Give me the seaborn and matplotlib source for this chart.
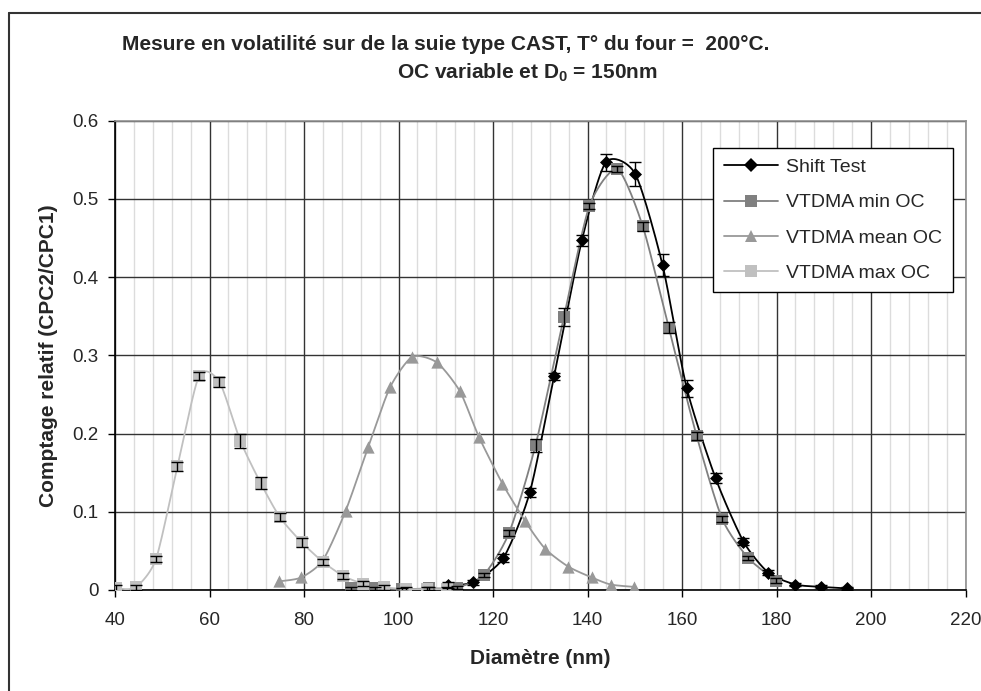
import numpy as np
import matplotlib
matplotlib.use('Agg')
import matplotlib.pyplot as plt
from matplotlib.lines import Line2D
import seaborn as sns

# Shift Test (black diamonds)
shift_x = [110.5, 115.8, 122.2, 127.8, 132.9, 138.8, 143.9, 150.1, 155.9, 161.0,
           167.1, 173.0, 178.3, 184.0, 189.5, 195.0]
shift_y = [0.006, 0.010, 0.041, 0.125, 0.273, 0.447, 0.547, 0.532, 0.415, 0.258,
           0.143, 0.062, 0.022, 0.007, 0.004, 0.002]
shift_err = [0.004, 0.003, 0.005, 0.006, 0.005, 0.007, 0.011, 0.015, 0.014, 0.011,
             0.006, 0.005, 0.003, 0.002, 0.002, 0.002]

# VTDMA min OC (dark grey squares)
min_x = [90.0, 95.0, 100.8, 106.5, 112.3, 118.0, 123.4, 129.0, 135.0, 140.4,
         146.3, 151.7, 157.2, 163.1, 168.5, 174.0, 179.9]
min_y = [0.002, 0.002, 0.001, 0.002, 0.003, 0.019, 0.073, 0.185, 0.349, 0.491,
         0.538, 0.465, 0.335, 0.197, 0.091, 0.041, 0.012]
min_err = [0.002, 0.002, 0.002, 0.002, 0.002, 0.003, 0.004, 0.008, 0.012, 0.004,
           0.004, 0.006, 0.007, 0.005, 0.004, 0.003, 0.003]

# VTDMA mean OC (grey triangles, no error bars)
mean_x = [74.7, 79.4, 84.0, 88.8, 93.6, 98.2, 102.9, 108.1, 113.0, 117.0,
          122.0, 126.8, 131.0, 135.9, 140.9, 144.9, 149.8]
mean_y = [0.011, 0.016, 0.038, 0.101, 0.183, 0.259, 0.298, 0.291, 0.254, 0.196,
          0.136, 0.088, 0.053, 0.030, 0.016, 0.007, 0.004]

# VTDMA max OC (light grey squares)
max_x = [40.2, 44.4, 48.7, 53.2, 57.8, 62.1, 66.5, 70.8, 74.9, 79.5,
         84.0, 88.3, 92.5, 96.9, 101.5, 106.0, 110.2]
max_y = [0.002, 0.0035, 0.040, 0.158, 0.274, 0.266, 0.191, 0.137, 0.093, 0.061,
         0.036, 0.018, 0.008, 0.0035, 0.001, 0.001, 0.001]
max_err = [0.004, 0.003, 0.004, 0.006, 0.005, 0.006, 0.009, 0.008, 0.005, 0.006,
           0.004, 0.004, 0.003, 0.003, 0.003, 0.003, 0.003]

labels = ['Shift Test', 'VTDMA min OC', 'VTDMA mean OC', 'VTDMA max OC']
colors = ['#000000', '#808080', '#999999', '#c0c0c0']


def smooth(x, y, n=24, k=0.7):
    # cubic Hermite curve through the points, softened tangents (Excel-like smoothing)
    p = np.column_stack([x, y]).astype(float)
    q = np.vstack([p[0], p, p[-1]])
    t = np.linspace(0, 1, n, endpoint=False)[:, None]
    h00 = 2 * t ** 3 - 3 * t ** 2 + 1
    h10 = t ** 3 - 2 * t ** 2 + t
    h01 = -2 * t ** 3 + 3 * t ** 2
    h11 = t ** 3 - t ** 2
    segs = []
    for i in range(1, len(q) - 2):
        m1 = k * 0.5 * (q[i + 1] - q[i - 1])
        m2 = k * 0.5 * (q[i + 2] - q[i])
        segs.append(h00 * q[i] + h10 * m1 + h01 * q[i + 1] + h11 * m2)
    segs.append(p[-1][None, :])
    s = np.vstack(segs)
    return s[:, 0], s[:, 1]


sns.set_style('white')
plt.rcParams['font.family'] = ['Liberation Sans', 'DejaVu Sans']
plt.rcParams['mathtext.fontset'] = 'custom'
plt.rcParams['mathtext.rm'] = 'Liberation Sans:bold'
plt.rcParams['mathtext.bf'] = 'Liberation Sans:bold'

fig = plt.figure(figsize=(9.81, 6.91), dpi=100)
ax = fig.add_axes([115 / 981, 1 - 590 / 691, 850.5 / 981, 469.3 / 691])

series = [
    (shift_x, shift_y, shift_err, 'D', 44),
    (min_x, min_y, min_err, 's', 64),
    (mean_x, mean_y, None, '^', 78),
    (max_x, max_y, max_err, 's', 64),
]

for (x, y, err, mk, sz), col, lab in zip(series, colors, labels):
    sx, sy = smooth(x, y)
    sns.lineplot(x=sx, y=sy, sort=False, estimator=None, color=col, lw=1.3,
                 ax=ax, zorder=3)
    sns.scatterplot(x=x, y=y, marker=mk, s=sz, color=col, linewidth=0,
                    ax=ax, zorder=4)
    if err is not None:
        ax.errorbar(x, y, yerr=err, fmt='none', ecolor='black', elinewidth=1,
                    capsize=4, capthick=1, zorder=5)

ax.set_xlim(40, 220)
ax.set_ylim(0, 0.6)
ax.set_xticks(range(40, 221, 20))
ax.set_xticks(np.arange(40, 221, 4), minor=True)
ax.set_yticks(np.arange(0, 0.61, 0.1))
ax.set_yticklabels(['0', '0.1', '0.2', '0.3', '0.4', '0.5', '0.6'])
ax.grid(which='minor', axis='x', color='#dcdcdc', lw=1)
ax.grid(which='major', color='#333333', lw=1)
ax.set_axisbelow(True)
ax.tick_params(which='major', direction='out', length=5, width=1, color='black',
               labelsize=13.5, left=True, bottom=True)
ax.tick_params(axis='x', pad=11)
ax.tick_params(axis='y', pad=7)
ax.tick_params(which='minor', length=0)
for side in ['left', 'bottom']:
    ax.spines[side].set_color('black')
    ax.spines[side].set_linewidth(1.2)
for side in ['top', 'right']:
    ax.spines[side].set_color('#909090')
    ax.spines[side].set_linewidth(1.2)

ax.set_xlabel('Diamètre (nm)', fontsize=15, fontweight='bold', labelpad=14)
ax.set_ylabel('Comptage relatif (CPC2/CPC1)', fontsize=15, fontweight='bold',
              labelpad=10)

fig.text(445.5 / 981, 1 - 45 / 691,
         'Mesure en volatilité sur de la suie type CAST, T° du four =  200°C.',
         fontsize=15, fontweight='bold', ha='center', va='center')
fig.text(527 / 981, 1 - 73 / 691, r'OC variable et D$_0$ = 150nm',
         fontsize=15, fontweight='bold', ha='center', va='center')

handles = []
for (x, y, err, mk, sz), col, lab in zip(series, colors, labels):
    handles.append(Line2D([], [], color=col, lw=1.3, marker=mk,
                          markersize=np.sqrt(sz), markeredgewidth=0, label=lab))
leg = ax.legend(handles=handles, loc='upper left',
                bbox_to_anchor=((713 - 115) / 850.5, (590 - 148) / 469.3),
                fontsize=14, frameon=True, fancybox=False, framealpha=1,
                edgecolor='black', handlelength=2.8, labelspacing=0.9,
                borderpad=0.55, handletextpad=0.4, borderaxespad=0)
leg.get_frame().set_linewidth(1.0)

# chart-area border (only top and left visible in the reference)
fig.add_artist(Line2D([9 / 981, 9 / 981], [0, 1 - 13 / 691], color='#333333',
                      lw=1.5, transform=fig.transFigure))
fig.add_artist(Line2D([9 / 981, 1], [1 - 13 / 691, 1 - 13 / 691],
                      color='#333333', lw=1.5, transform=fig.transFigure))

fig.savefig('out.png', dpi=100)
